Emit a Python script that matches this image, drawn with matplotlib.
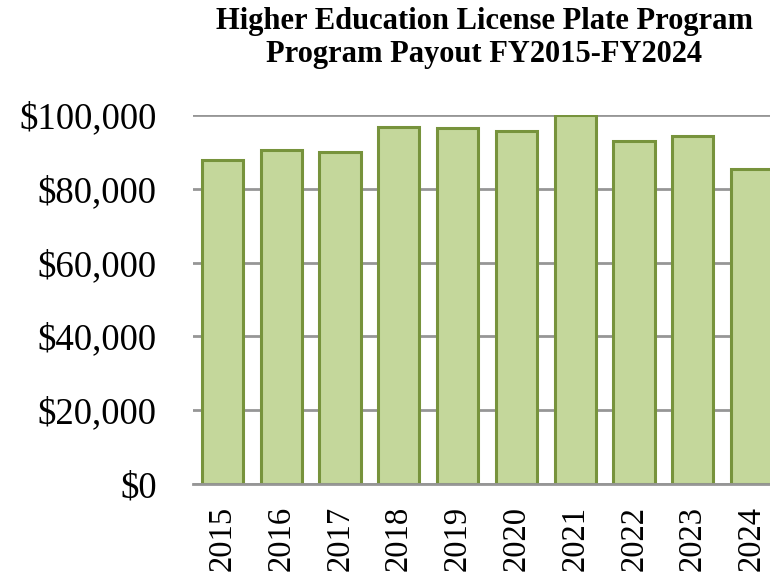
import matplotlib
matplotlib.use("Agg")
import matplotlib.pyplot as plt
from matplotlib.ticker import FuncFormatter, MultipleLocator

years = ["2015", "2016", "2017", "2018", "2019", "2020", "2021", "2022", "2023", "2024"]
payout = [87800, 90500, 89900, 96800, 96400, 95700, 99900, 92900, 94400, 85400]
title = "Higher Education License Plate Program\nProgram Payout FY2015-FY2024"

plt.rcParams['font.family'] = ['Liberation Serif', 'DejaVu Serif']

fig = plt.figure(figsize=(7.7, 5.74), dpi=100)
ax = fig.add_axes([193/770, 90/574, 588/770, 369/574])

x = range(len(years))
ax.bar(x, payout, width=0.7, color='#C4D79B', edgecolor='#77933C', linewidth=2.2, zorder=3)

ax.set_xlim(-0.5, 9.5)
ax.set_ylim(0, 100000)
ax.yaxis.set_major_locator(MultipleLocator(20000))
ax.yaxis.set_major_formatter(FuncFormatter(lambda v, p: "${:,.0f}".format(v)))
ax.set_xticks(list(x))
ax.set_xticklabels(years, rotation=90, fontsize=23.5)
ax.tick_params(axis='y', labelsize=26.5, length=0, pad=26)
ax.tick_params(axis='x', length=0, pad=16)
ax.grid(axis='y', color='#969696', linewidth=2, zorder=0)
for s in ['top', 'right', 'left']:
    ax.spines[s].set_visible(False)
ax.spines['bottom'].set_color('#969696')
ax.spines['bottom'].set_linewidth(2)
ax.spines['bottom'].set_zorder(4)

fig.text(484/770, 1 - 7/574, title, ha='center', va='top', fontsize=22,
         fontweight='bold', linespacing=1.2)

fig.savefig("out.png", dpi=100)
